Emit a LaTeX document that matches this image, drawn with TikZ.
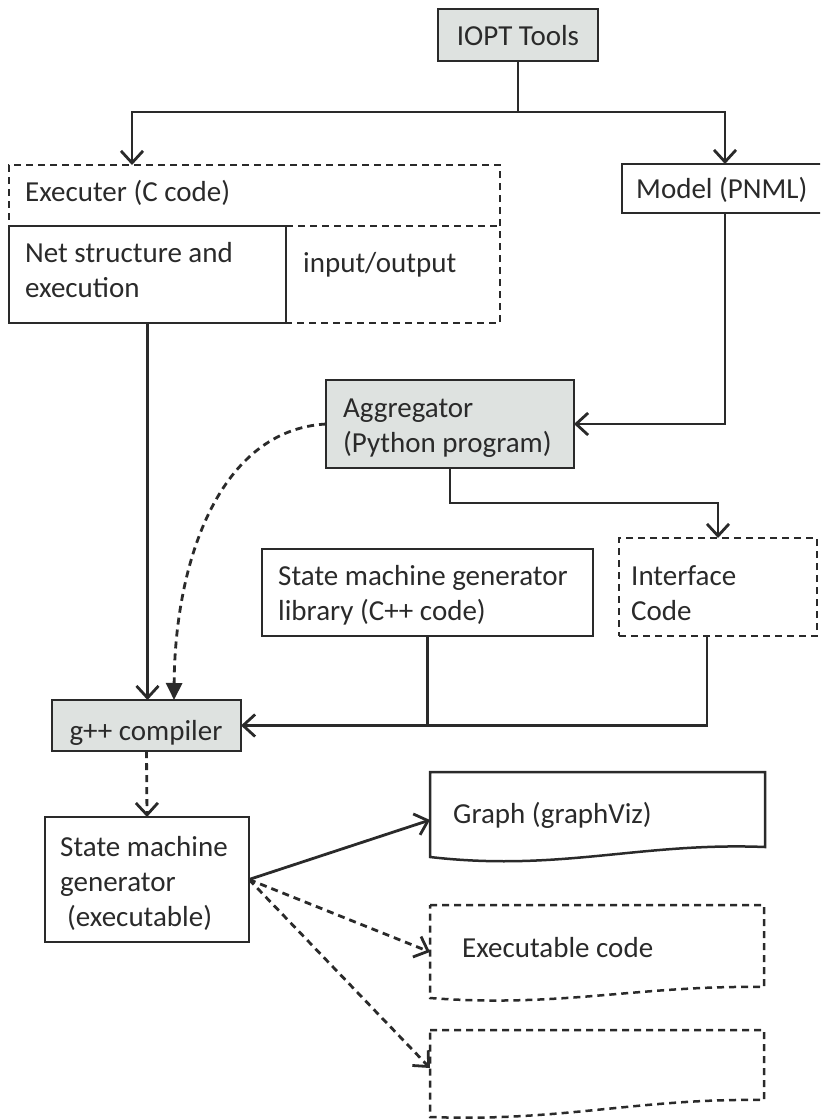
\documentclass[tikz,border=0pt]{standalone}
\usepackage{fontspec}
\setmainfont{Carlito}
\usetikzlibrary{arrows.meta,calc}
\definecolor{ink}{HTML}{2A2A2A}
\definecolor{boxfill}{HTML}{DEE2E0}
\begin{document}
\begin{tikzpicture}[x=1pt,y=-1pt,
  font=\fontsize{29}{35}\selectfont,
  boxnode/.style={draw=ink, line width=2.5pt, inner sep=0pt, outer sep=0pt, anchor=north west},
  shaded/.style={boxnode, fill=boxfill},
  dashbox/.style={boxnode, dash pattern=on 7pt off 5pt},
  boxline/.style={draw=ink, line width=2.5pt},
  dashline/.style={boxline, dash pattern=on 7pt off 5pt},
  txt/.style={anchor=west, align=left, inner sep=0pt, text=ink},
  conn/.style={draw=ink, line width=2.8pt},
  arr/.style={conn, -{Straight Barb[length=12pt,width=22pt]}},
  darr/.style={arr, dash pattern=on 7pt off 5pt},
  tarr/.style={conn, dash pattern=on 7pt off 5pt, -{Triangle[length=17pt,width=16pt]}}]
\useasboundingbox (0,0) rectangle (820,1119);
\clip (0,0) rectangle (820,1119);

% top-level tool
\node[shaded, minimum width=160, minimum height=52] (iopt) at (438,9) {};
\node[txt, anchor=center] (ioptT) at (518,36) {IOPT Tools};

% executer block with its two parts
\node[dashbox, minimum width=491, minimum height=158] (exec) at (9,165) {};
\node[boxnode, minimum width=277, minimum height=97] (net) at (9,226) {};
\draw[dashline] (net.north east) -- (net.north east -| exec.east);
\node[txt] (execT) at (25,193) {Executer (C code)};
\node[txt] (netT) at (25,270) {Net structure and\\execution};
\node[txt] (ioT) at (303,265) {input/output};

% model
\node[boxnode, minimum width=206, minimum height=49] (model) at (622,164) {};
\node[txt] (modelT) at (636,190) {Model (PNML)};

% aggregator
\node[shaded, minimum width=248, minimum height=88] (agg) at (326,380) {};
\node[txt] (aggT) at (343,428) {Aggregator\\(Python program)};

% library and interface code
\node[boxnode, minimum width=331, minimum height=87] (lib) at (262,549) {};
\node[txt] (libT) at (278,595) {State machine generator\\library (C++ code)};
\node[dashbox, minimum width=198, minimum height=98] (iface) at (619,538) {};
\node[txt] (ifaceT) at (631,593) {Interface\\Code};

% compiler
\node[shaded, minimum width=189, minimum height=51] (gpp) at (52,700) {};
\node[txt, anchor=center] (gppT) at (146,733) {g++ compiler};

% generator executable
\node[boxnode, minimum width=204, minimum height=125] (smg) at (45,817) {};
\node[txt] (smgT) at (60,883) {State machine\\generator\\\hspace*{7pt}(executable)};

% output documents
\draw[boxline] (430,772) -- (765,772) -- (765,847) .. controls (640,842) and (560,872) .. (430,857) -- cycle;
\node[txt] (graphT) at (453,815) {Graph (graphViz)};
\draw[dashline] (430,905) -- (764,905) -- (764,987) .. controls (640,985) and (560,1008) .. (430,998) -- cycle;
\node[txt] (codeT) at (462,948) {Executable code};
\draw[dashline] (430,1030) -- (764,1030) -- (764,1100) .. controls (640,1098) and (560,1122) .. (430,1117) -- cycle;

\coordinate (graphin) at (430,820);
\coordinate (codein) at (430,952);
\coordinate (otherin) at (430,1068);
\coordinate (split) at (518,112);
\coordinate (execin) at (132,165);
\coordinate (gppin) at (174,700);
\coordinate (ifaceout) at (707,636);

% connectors
\draw[conn] (iopt.south) -- (split);
\draw[arr] (split) -| (execin);
\draw[arr] (split) -| (model.north);
\draw[arr] (net.south) -- (net.south |- gpp.north);
\draw[arr] (model.south) |- (agg.east);
\draw[arr] (agg.south) -- ++(0,35) -| (iface.north);
\draw[tarr] (agg.west) .. controls (220,430) and (175,560) .. (gppin);
\draw[arr] (ifaceout) |- (gpp.east);
\draw[conn] (lib.south) -- (lib.south |- gpp.east);
\draw[darr] (gpp.south) -- (smg.north);
\draw[arr] (smg.east) -- (graphin);
\draw[darr] (smg.east) -- (codein);
\draw[darr] (smg.east) -- (otherin);
\end{tikzpicture}
\end{document}
